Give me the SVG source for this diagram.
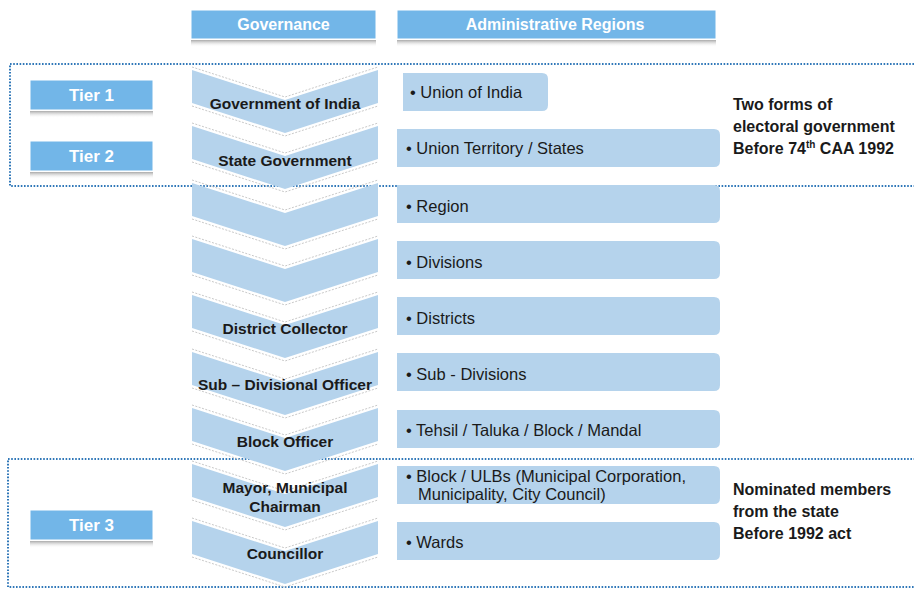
<svg xmlns="http://www.w3.org/2000/svg" width="914" height="589" viewBox="0 0 914 589">
<defs>
<linearGradient id="sh" x1="0" y1="0" x2="0" y2="1">
<stop offset="0" stop-color="#a9a9a9"/>
<stop offset="1" stop-color="#ffffff" stop-opacity="0"/>
</linearGradient>
<style>
.hdr{fill:#72b6e8;stroke:#ffffff;stroke-width:1}
.shadow{fill:url(#sh)}
.chev{fill:#b5d3ec}
.chevline{fill:none;stroke:#c9c9c9;stroke-width:1;stroke-dasharray:2 1.5}
.box{fill:#b5d3ec}
.dots{fill:none;stroke:#2f77b8;stroke-width:2;stroke-dasharray:1.6 1.6}
.ht{font-family:"Liberation Sans",Arial,sans-serif;font-weight:bold;font-size:16px;fill:#ffffff;text-anchor:middle}
.tt{font-family:"Liberation Sans",Arial,sans-serif;font-weight:bold;font-size:17px;fill:#ffffff;text-anchor:middle}
.ct{font-family:"Liberation Sans",Arial,sans-serif;font-weight:bold;font-size:15.5px;fill:#1a1a1a;text-anchor:middle}
.bt{font-family:"Liberation Sans",Arial,sans-serif;font-size:16.5px;fill:#1a1a1a}
.rt{font-family:"Liberation Sans",Arial,sans-serif;font-weight:bold;font-size:16px;fill:#1a1a1a}
</style>
</defs>
<rect width="914" height="589" fill="#ffffff"/>

<g id="frames">
<rect class="dots" x="10" y="64" width="910" height="122"/>
<rect class="dots" x="8" y="459" width="912" height="128"/>
</g>

<g id="header-governance">
<rect class="hdr" x="191" y="10" width="185" height="29"/>
<rect class="shadow" x="191" y="40" width="185" height="7"/>
<text class="ht" x="283.5" y="30">Governance</text>
</g>
<g id="header-regions">
<rect class="hdr" x="397" y="10" width="319" height="29"/>
<rect class="shadow" x="397" y="40" width="319" height="7"/>
<text class="ht" x="555" y="30">Administrative Regions</text>
</g>

<g id="tier1">
<rect class="hdr" x="30" y="80" width="123" height="30"/>
<rect class="shadow" x="30" y="111" width="123" height="7"/>
<text class="tt" x="91.5" y="101">Tier 1</text>
</g>
<g id="tier2">
<rect class="hdr" x="30" y="141" width="123" height="30"/>
<rect class="shadow" x="30" y="172" width="123" height="7"/>
<text class="tt" x="91.5" y="162">Tier 2</text>
</g>
<g id="tier3">
<rect class="hdr" x="30" y="510" width="123" height="30"/>
<rect class="shadow" x="30" y="541" width="123" height="7"/>
<text class="tt" x="91.5" y="531">Tier 3</text>
</g>

<g id="chev1">
<polyline class="chevline" points="192,67 285,97 378,67"/>
<polyline class="chevline" points="192,106 285,136 378,106"/>
<polygon class="chev" points="192,70 285,100 378,70 378,103 285,133 192,103"/>
<text class="ct" x="285" y="109">Government of India</text>
</g>
<g id="chev2">
<polyline class="chevline" points="192,123 285,153 378,123"/>
<polyline class="chevline" points="192,162 285,192 378,162"/>
<polygon class="chev" points="192,126 285,156 378,126 378,159 285,189 192,159"/>
<text class="ct" x="285" y="166">State Government</text>
</g>
<g id="chev3">
<polyline class="chevline" points="192,180 285,210 378,180"/>
<polyline class="chevline" points="192,219 285,249 378,219"/>
<polygon class="chev" points="192,183 285,213 378,183 378,216 285,246 192,216"/>
</g>
<g id="chev4">
<polyline class="chevline" points="192,236 285,266 378,236"/>
<polyline class="chevline" points="192,275 285,305 378,275"/>
<polygon class="chev" points="192,239 285,269 378,239 378,272 285,302 192,272"/>
</g>
<g id="chev5">
<polyline class="chevline" points="192,292 285,322 378,292"/>
<polyline class="chevline" points="192,331 285,361 378,331"/>
<polygon class="chev" points="192,295 285,325 378,295 378,328 285,358 192,328"/>
<text class="ct" x="285" y="334">District Collector</text>
</g>
<g id="chev6">
<polyline class="chevline" points="192,349 285,379 378,349"/>
<polyline class="chevline" points="192,388 285,418 378,388"/>
<polygon class="chev" points="192,352 285,382 378,352 378,385 285,415 192,385"/>
<text class="ct" x="285" y="390">Sub – Divisional Officer</text>
</g>
<g id="chev7">
<polyline class="chevline" points="192,405 285,435 378,405"/>
<polyline class="chevline" points="192,444 285,474 378,444"/>
<polygon class="chev" points="192,408 285,438 378,408 378,441 285,471 192,441"/>
<text class="ct" x="285" y="447">Block Officer</text>
</g>
<g id="chev8">
<polyline class="chevline" points="192,461 285,491 378,461"/>
<polyline class="chevline" points="192,500 285,530 378,500"/>
<polygon class="chev" points="192,464 285,494 378,464 378,497 285,527 192,497"/>
<text class="ct" x="285" y="493">Mayor, Municipal</text>
<text class="ct" x="285" y="512">Chairman</text>
</g>
<g id="chev9">
<polyline class="chevline" points="192,518 285,548 378,518"/>
<polyline class="chevline" points="192,557 285,587 378,557"/>
<polygon class="chev" points="192,521 285,551 378,521 378,554 285,584 192,554"/>
<text class="ct" x="285" y="559">Councillor</text>
</g>

<g id="box1">
<path class="box" d="M403,73 H542 Q548,73 548,79 V105 Q548,111 542,111 H403 Z"/>
<text class="bt" x="410" y="98">• Union of India</text>
</g>
<g id="box2">
<path class="box" d="M397,129 H714 Q720,129 720,135 V161 Q720,167 714,167 H397 Z"/>
<text class="bt" x="406" y="154">• Union Territory / States</text>
</g>
<g id="box3">
<path class="box" d="M397,185 H714 Q720,185 720,191 V217 Q720,223 714,223 H397 Z"/>
<text class="bt" x="406" y="212">• Region</text>
</g>
<g id="box4">
<path class="box" d="M397,241 H714 Q720,241 720,247 V273 Q720,279 714,279 H397 Z"/>
<text class="bt" x="406" y="268">• Divisions</text>
</g>
<g id="box5">
<path class="box" d="M397,297 H714 Q720,297 720,303 V329 Q720,335 714,335 H397 Z"/>
<text class="bt" x="406" y="324">• Districts</text>
</g>
<g id="box6">
<path class="box" d="M397,353 H714 Q720,353 720,359 V385 Q720,391 714,391 H397 Z"/>
<text class="bt" x="406" y="380">• Sub - Divisions</text>
</g>
<g id="box7">
<path class="box" d="M397,410 H714 Q720,410 720,416 V442 Q720,448 714,448 H397 Z"/>
<text class="bt" x="406" y="436">• Tehsil / Taluka / Block / Mandal</text>
</g>
<g id="box8">
<path class="box" d="M397,466 H714 Q720,466 720,472 V498 Q720,504 714,504 H397 Z"/>
<text class="bt" x="406" y="482" font-size="15.5">• Block / ULBs (Municipal  Corporation,</text>
<text class="bt" x="418" y="500" font-size="15.5">Municipality,  City Council)</text>
</g>
<g id="box9">
<path class="box" d="M397,522 H714 Q720,522 720,528 V554 Q720,560 714,560 H397 Z"/>
<text class="bt" x="406" y="548">• Wards</text>
</g>

<g id="note1">
<text class="rt" x="733" y="110">Two forms of</text>
<text class="rt" x="733" y="132">electoral government</text>
<text class="rt" x="733" y="154">Before 74<tspan font-size="10" dy="-6">th</tspan><tspan dy="6"> CAA  1992</tspan></text>
</g>
<g id="note2">
<text class="rt" x="733" y="495">Nominated members</text>
<text class="rt" x="733" y="517">from the state</text>
<text class="rt" x="733" y="539">Before 1992 act</text>
</g>
<g id="connectors"></g>
</svg>
